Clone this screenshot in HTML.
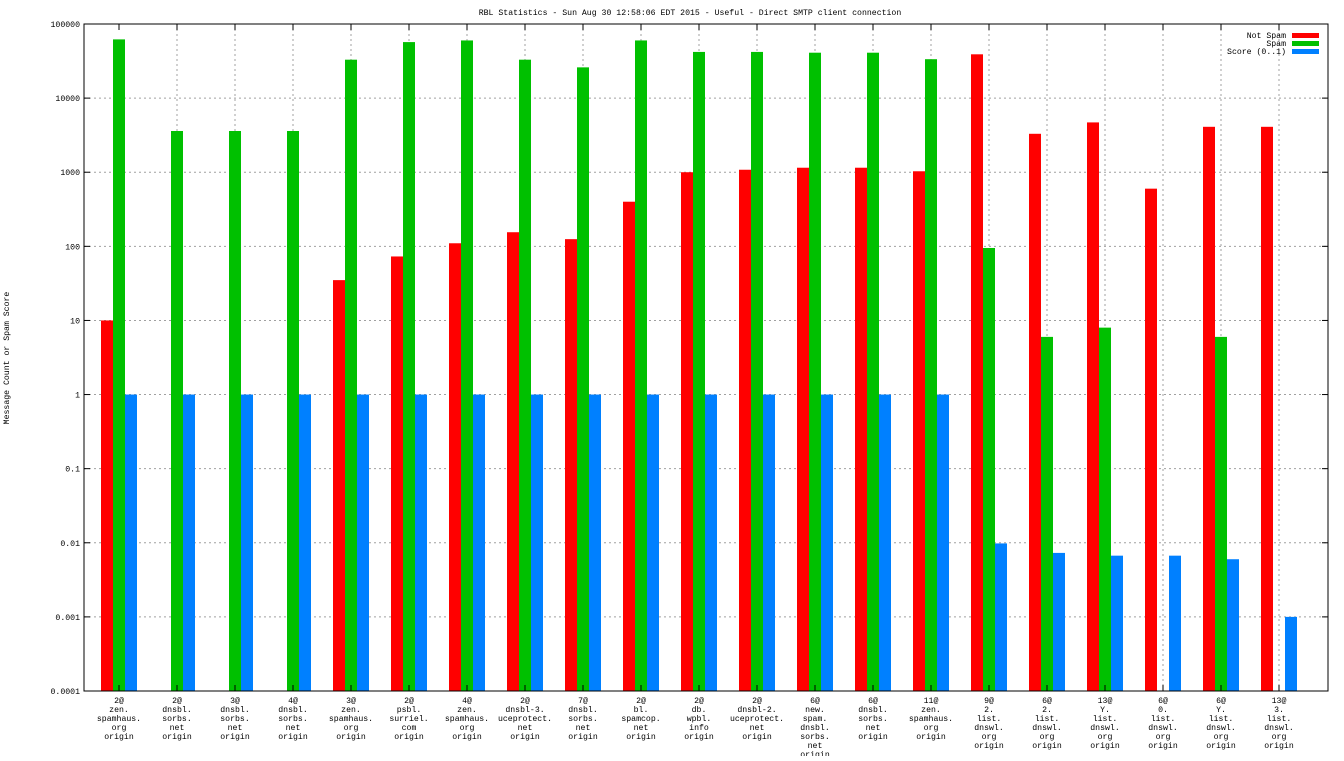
<!DOCTYPE html>
<html><head><meta charset="utf-8"><style>
body{margin:0;background:#fff}
svg text{font-family:"Liberation Mono","DejaVu Sans Mono",monospace;font-size:8.2px;fill:#000}
</style></head><body>
<svg id="chart" width="1344" height="756" xmlns="http://www.w3.org/2000/svg">
<text x="690" y="15" text-anchor="middle">RBL Statistics - Sun Aug 30 12:58:06 EDT 2015 - Useful - Direct SMTP client connection</text>
<text transform="translate(9,358) rotate(-90)" text-anchor="middle">Message Count or Spam Score</text>
<g id="grid"></g><g id="bars"></g><g id="axes"></g>
<g>
<text x="1286" y="38" text-anchor="end">Not Spam</text><rect x="1292" y="33" width="27" height="5" fill="#ff0000"/>
<text x="1286" y="46" text-anchor="end">Spam</text><rect x="1292" y="41" width="27" height="5" fill="#00c000"/>
<text x="1286" y="54" text-anchor="end">Score (0..1)</text><rect x="1292" y="49" width="27" height="5" fill="#0080ff"/>
</g>
</svg>
<script>
const categories=[["2@","zen.","spamhaus.","org","origin"],["2@","dnsbl.","sorbs.","net","origin"],["3@","dnsbl.","sorbs.","net","origin"],["4@","dnsbl.","sorbs.","net","origin"],["3@","zen.","spamhaus.","org","origin"],["2@","psbl.","surriel.","com","origin"],["4@","zen.","spamhaus.","org","origin"],["2@","dnsbl-3.","uceprotect.","net","origin"],["7@","dnsbl.","sorbs.","net","origin"],["2@","bl.","spamcop.","net","origin"],["2@","db.","wpbl.","info","origin"],["2@","dnsbl-2.","uceprotect.","net","origin"],["6@","new.","spam.","dnsbl.","sorbs.","net","origin"],["6@","dnsbl.","sorbs.","net","origin"],["11@","zen.","spamhaus.","org","origin"],["9@","2.","list.","dnswl.","org","origin"],["6@","2.","list.","dnswl.","org","origin"],["13@","Y.","list.","dnswl.","org","origin"],["6@","0.","list.","dnswl.","org","origin"],["6@","Y.","list.","dnswl.","org","origin"],["13@","3.","list.","dnswl.","org","origin"]];
const notSpam=[10,null,null,null,35,73,110,155,125,400,1000,1080,1150,1150,1030,39000,3300,4700,600,4100,4100];
const spam=[62000,3600,3600,3600,33000,57000,60000,33000,26000,60000,42000,42000,41000,41000,33500,95,6,8,null,6,null];
const score=[1,1,1,1,1,1,1,1,1,1,1,1,1,1,1,0.0098,0.0073,0.0067,0.0067,0.006,0.001];
const yTicks=["0.0001","0.001","0.01","0.1","1","10","100","1000","10000","100000"];
const L=84,R=1328,T=24,B=691;
const y=v=>B-(Math.log10(v)+4)*(B-T)/9;
const xc=i=>119+58*i;
const NS="http://www.w3.org/2000/svg";
function mk(tag,attrs,parent){const e=document.createElementNS(NS,tag);for(const k in attrs)e.setAttribute(k,attrs[k]);parent.appendChild(e);return e;}
const grid=document.getElementById('grid'),bars=document.getElementById('bars'),axes=document.getElementById('axes');
yTicks.forEach(t=>{const yy=y(parseFloat(t));
 if(yy>T+1&&yy<B-1){const g=mk('line',{x1:L,x2:R,y1:yy,y2:yy,stroke:'#a0a0a0','stroke-dasharray':'2,3'},grid);}
 mk('line',{x1:L,x2:L+6,y1:yy,y2:yy,stroke:'#000'},axes);mk('line',{x1:R-6,x2:R,y1:yy,y2:yy,stroke:'#000'},axes);
 const tx=mk('text',{x:L-4,y:yy+3,'text-anchor':'end'},axes);tx.textContent=t;
 });
categories.forEach((c,i)=>{const cx=xc(i);
 if(i>0){const g=mk('line',{x1:cx,x2:cx,y1:T,y2:B,stroke:'#a0a0a0','stroke-dasharray':'2,3'},grid);}
 mk('line',{x1:cx,x2:cx,y1:B,y2:B-6,stroke:'#000'},axes);mk('line',{x1:cx,x2:cx,y1:T,y2:T+6,stroke:'#000'},axes);
 c.forEach((s,j)=>{const tx=mk('text',{x:cx,y:703+9*j,'text-anchor':'middle'},axes);tx.textContent=s;
  });
 [[notSpam,'#ff0000',-18,'bar-not-spam'],[spam,'#00c000',-6,'bar-spam'],[score,'#0080ff',6,'bar-score']].forEach(([arr,col,off,nm])=>{
  const v=arr[i];if(v==null)return;const yy=y(v);
  const r=mk('rect',{x:cx+off,y:yy,width:12,height:B-yy,fill:col},bars);
  });
});
const fr=mk('rect',{x:L,y:T,width:R-L,height:B-T,fill:'none',stroke:'#000'},axes);

</script>
</body></html>
